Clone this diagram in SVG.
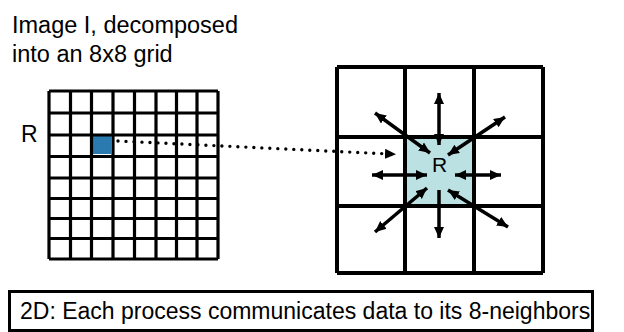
<svg xmlns="http://www.w3.org/2000/svg" width="624" height="332" viewBox="0 0 624 332">
  <style>
    .txt { font-family: "Liberation Sans", Arial, sans-serif; fill: #000; }
    .fine { stroke: #000; stroke-width: 3.2; fill: none; }
    .coarse { stroke: #000; stroke-width: 4; fill: none; }
    .arrow { stroke: #000; stroke-width: 3.5; fill: none; }
    .dots { stroke: #000; stroke-width: 3.4; stroke-linecap: round; stroke-dasharray: 0 8; fill: none; }
  </style>
  <defs>
    <marker id="head" markerUnits="userSpaceOnUse" markerWidth="12" markerHeight="11" refX="11" refY="5" orient="auto-start-reverse">
      <path d="M0,0 L11,5 L0,10 z" fill="#000"/>
    </marker>
  </defs>

  <rect width="624" height="332" fill="#fff"/>

  <!-- caption above the fine grid -->
  <g id="title">
    <text class="txt" x="12" y="33" font-size="23.5">Image I, decomposed</text>
    <text class="txt" x="12" y="62" font-size="23.5">into an 8x8 grid</text>
  </g>

  <!-- 8x8 decomposition -->
  <g id="fine-grid">
    <rect x="92" y="135" width="19" height="19" fill="#2a7ab0"/>
    <path class="fine" d="M49,91 V259 M70.5,91 V259 M91.5,91 V259 M113,91 V259 M134.5,91 V259 M156,91 V259 M176.5,91 V259 M197,91 V259 M218,91 V259
                          M49,91 H218 M49,113 H218 M49,135 H218 M49,156.5 H218 M49,178 H218 M49,198.5 H218 M49,218.5 H218 M49,238.5 H218 M49,259 H218"/>
    <text class="txt" x="21" y="142" font-size="23">R</text>
  </g>

  <!-- 3x3 neighbourhood around R -->
  <g id="neighbourhood">
    <rect x="405" y="137" width="69" height="69" fill="#bce1e3"/>
    <path class="coarse" d="M337,67 V273 M405,67 V273 M474,67 V273 M543,67 V273
                            M337,67 H543 M337,137 H543 M337,206 H543 M337,273 H543"/>
    <text class="txt" x="439.5" y="172" font-size="21" text-anchor="middle" fill="#222">R</text>
  </g>

  <!-- exchange arrows and the link between the two views -->
  <g id="connectors">
    <line class="dots" x1="118" y1="141" x2="396" y2="154.3" marker-end="url(#head)"/>
    <line class="arrow" x1="439" y1="93" x2="439" y2="145" marker-start="url(#head)" marker-end="url(#head)"/>
    <line class="arrow" x1="439" y1="190" x2="439" y2="238" marker-end="url(#head)"/>
    <line class="arrow" x1="372" y1="175" x2="427" y2="175" marker-start="url(#head)" marker-end="url(#head)"/>
    <line class="arrow" x1="455" y1="175" x2="501" y2="175" marker-start="url(#head)" marker-end="url(#head)"/>
    <line class="arrow" x1="375" y1="113" x2="430" y2="153" marker-start="url(#head)" marker-end="url(#head)"/>
    <line class="arrow" x1="505" y1="117" x2="448" y2="155" marker-start="url(#head)" marker-end="url(#head)"/>
    <line class="arrow" x1="375" y1="232" x2="427" y2="188" marker-start="url(#head)" marker-end="url(#head)"/>
    <line class="arrow" x1="508" y1="227" x2="448" y2="190" marker-start="url(#head)" marker-end="url(#head)"/>
  </g>

  <!-- caption box -->
  <g id="caption">
    <rect x="9.5" y="291.5" width="583" height="39" fill="#fff" stroke="#000" stroke-width="3"/>
    <text class="txt" x="20" y="319" font-size="23">2D: Each process communicates data to its 8-neighbors</text>
  </g>
</svg>
